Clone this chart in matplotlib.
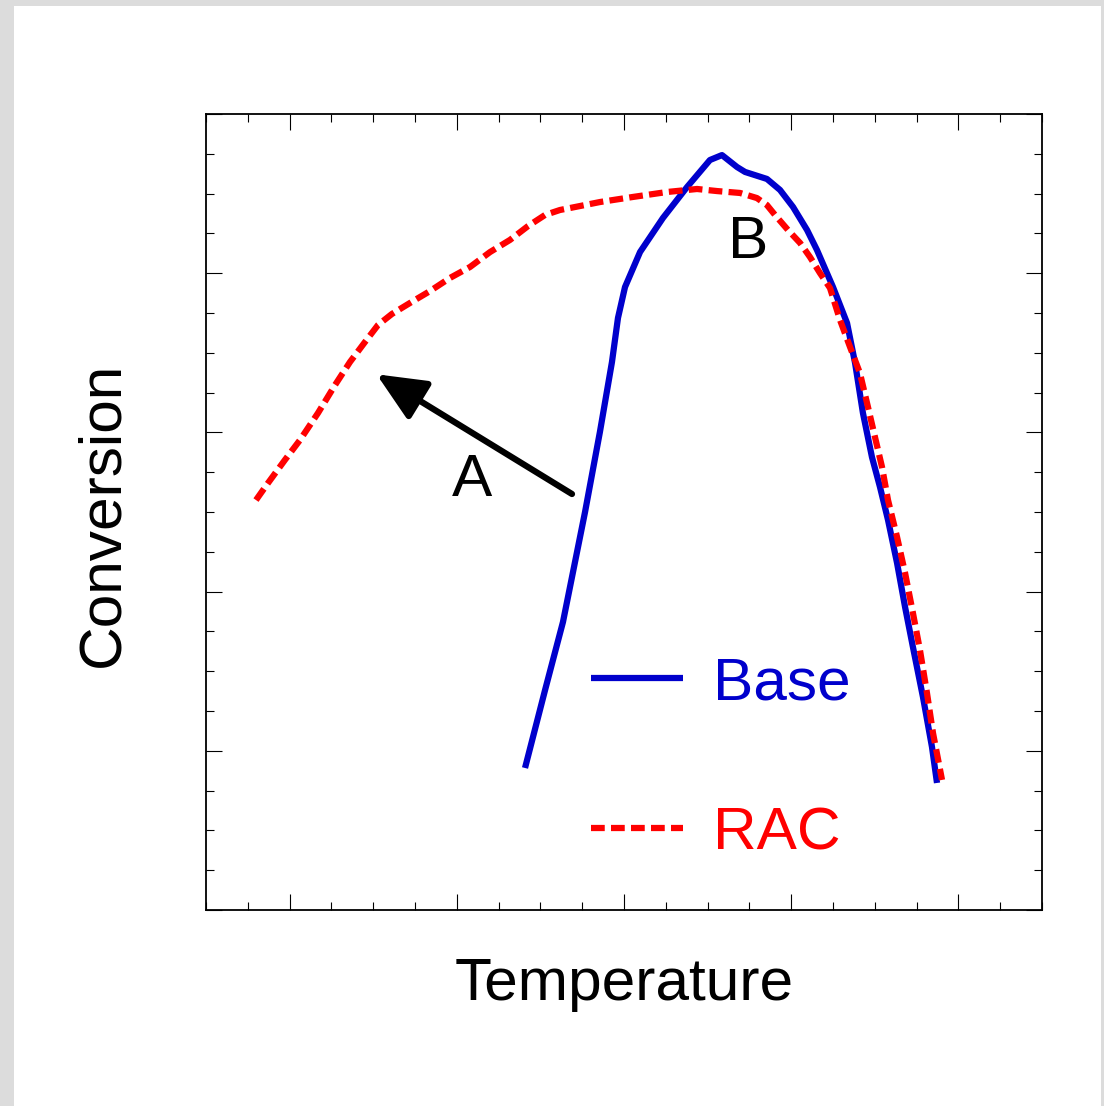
import numpy as np
import matplotlib.pyplot as plt
from matplotlib.patches import Rectangle
from matplotlib.ticker import MultipleLocator
plt.switch_backend("agg")

plt.rcParams['font.family'] = ['Liberation Sans', 'DejaVu Sans']

# Base curve (conversion vs temperature, arbitrary units)
base_t = [1.908, 2.028, 2.135, 2.267, 2.356, 2.428, 2.464, 2.506, 2.596, 2.733,
          2.877, 3.014, 3.086, 3.176, 3.224, 3.355, 3.433, 3.511, 3.595, 3.654,
          3.750, 3.834, 3.882, 3.929, 3.983, 4.031, 4.079, 4.133, 4.181, 4.228,
          4.288, 4.342, 4.372]
base_c = [0.892, 1.382, 1.809, 2.500, 3.003, 3.442, 3.719, 3.913, 4.133, 4.347,
          4.541, 4.711, 4.742, 4.667, 4.636, 4.592, 4.523, 4.416, 4.271, 4.146,
          3.913, 3.687, 3.436, 3.122, 2.845, 2.657, 2.450, 2.180, 1.903, 1.652,
          1.338, 1.024, 0.798]

# RAC curve
rac_t = [0.299, 0.371, 0.472, 0.562, 0.670, 0.772, 0.861, 0.951, 1.029, 1.112,
         1.220, 1.340, 1.459, 1.579, 1.699, 1.818, 1.926, 2.028, 2.117, 2.237,
         2.356, 2.554, 2.757, 2.937, 3.056, 3.194, 3.295, 3.355, 3.403, 3.481,
         3.553, 3.612, 3.672, 3.732, 3.792, 3.852, 3.911, 3.959, 4.001, 4.043,
         4.079, 4.133, 4.181, 4.228, 4.270, 4.312, 4.348, 4.402]
rac_c = [2.575, 2.682, 2.827, 2.952, 3.122, 3.298, 3.442, 3.568, 3.675, 3.744,
         3.813, 3.888, 3.970, 4.039, 4.133, 4.209, 4.296, 4.366, 4.397, 4.422,
         4.447, 4.479, 4.510, 4.529, 4.516, 4.504, 4.472, 4.428, 4.366, 4.271,
         4.190, 4.102, 4.001, 3.907, 3.706, 3.536, 3.373, 3.160, 2.971, 2.783,
         2.575, 2.343, 2.117, 1.866, 1.633, 1.363, 1.112, 0.817]

arrow_tail = (2.189, 2.613)
arrow_tip = (1.020, 3.365)
label_a = (1.591, 2.70)
label_b = (3.242, 4.19)

blue = '#0000cc'
red = '#ff0000'
fs = 43.5

fig = plt.figure(figsize=(11.04, 11.06), dpi=100)
fig.patch.set_facecolor('#dcdcdc')
fig.add_artist(Rectangle((14 / 1104, 0), 1087 / 1104, 1100 / 1106,
                         transform=fig.transFigure, facecolor='white',
                         edgecolor='none', zorder=-5))

ax = fig.add_axes([206 / 1104, 196 / 1106, 836 / 1104, 796 / 1106])
ax.set_xlim(0, 5)
ax.set_ylim(0, 5)

ax.plot(base_t, base_c, color=blue, lw=4.5, label='Base', solid_capstyle='butt')
ax.plot(rac_t, rac_c, color=red, lw=4.5, linestyle=(0, (2.2, 1.0)), label='RAC')

ax.annotate('', xy=arrow_tip, xytext=arrow_tail,
            arrowprops=dict(arrowstyle='-|>,head_length=1.0,head_width=0.45',
                            mutation_scale=30, lw=4.5, color='black',
                            shrinkA=0, shrinkB=0))
ax.text(*label_a, 'A', fontsize=fs, ha='center', va='center')
ax.text(*label_b, 'B', fontsize=fs, ha='center', va='center')

leg = ax.legend(loc='center', bbox_to_anchor=(0.616, 0.190), frameon=False,
                fontsize=fs, handlelength=1.52, handletextpad=0.5,
                labelspacing=1.58, labelcolor='linecolor')

ax.set_xticks(np.arange(0.5, 5, 1.0))
ax.xaxis.set_minor_locator(MultipleLocator(0.25))
ax.yaxis.set_major_locator(MultipleLocator(1.0))
ax.yaxis.set_minor_locator(MultipleLocator(0.25))
ax.tick_params(which='both', direction='in', top=True, right=True,
               labelbottom=False, labelleft=False, width=0.8, color='black')
ax.tick_params(which='major', length=11.5)
ax.tick_params(which='minor', length=5.8)
for s in ax.spines.values():
    s.set_linewidth(1.3)

ax.set_xlabel('Temperature', fontsize=fs, va='baseline')
ax.xaxis.set_label_coords(0.5, -0.113)
ax.set_ylabel('Conversion', fontsize=fs, va='baseline')
ax.yaxis.set_label_coords(-0.105, 0.497)

plt.savefig('out.png', dpi=100)
plt.close(fig)
